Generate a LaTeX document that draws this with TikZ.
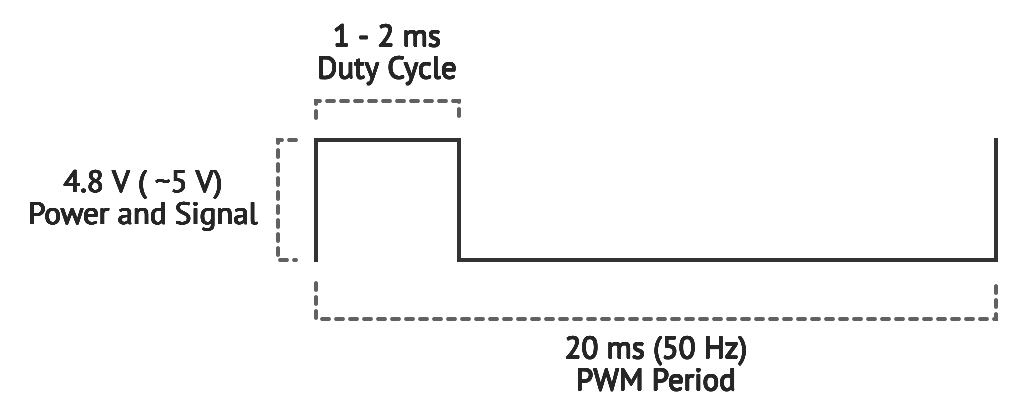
\documentclass[tikz,border=0pt]{standalone}
\usepackage{fontspec}
\usepackage[copies]{contour}
\setmainfont{PT Sans}
\contourlength{0.45pt}
\contournumber{16}
\newcommand\thk[1]{\contour{black!85}{#1}}
\begin{document}
\begin{tikzpicture}[x=1pt,y=-1pt,
  wave/.style={draw=black!80, line width=3.6pt, line join=miter},
  bracket/.style={draw=black!62, line width=3.8pt, line cap=round, dash pattern=on 7pt off 7pt},
  lbl/.style={font=\fontsize{31}{32}\selectfont, text=black!85, align=center}]
\useasboundingbox (0,0) rectangle (1024,416);
\coordinate (s0) at (316,262);
\coordinate (s1) at (316,140);
\coordinate (s2) at (459,140);
\coordinate (s3) at (459,260);
\coordinate (s4) at (996,260);
\coordinate (s5) at (996,138);
\draw[wave] (s0) -- (s1) -- (s2) -- (s3) -- (s4) -- (s5);
% duty bracket
\coordinate (d0) at (316,118);
\coordinate (d1) at (316,101);
\coordinate (d2) at (459,101);
\coordinate (d3) at (459,118);
\draw[bracket] (d0) -- (d1) -- (d2) -- (d3);
% voltage bracket
\coordinate (v0) at (296,140);
\coordinate (v1) at (278,140);
\coordinate (v2) at (278,260);
\coordinate (v3) at (296,260);
\draw[bracket] (v0) -- (v1) -- (v2) -- (v3);
% period bracket
\coordinate (p0) at (316,283);
\coordinate (p1) at (316,319);
\coordinate (p2) at (996,319);
\coordinate (p3) at (996,283);
\draw[bracket] (p0) -- (p1) -- (p2) -- (p3);
\node[lbl] (duty) at (387,55) {\thk{1 - 2 ms}\\\thk{Duty Cycle}};
\node[lbl] (volt) at (143,201) {\thk{4.8 V ( \textasciitilde 5 V)}\\\thk{Power and Signal}};
\node[lbl] (period) at (656,364) {\thk{20 ms (50 Hz)}\\\thk{PWM Period}};
\end{tikzpicture}
\end{document}
